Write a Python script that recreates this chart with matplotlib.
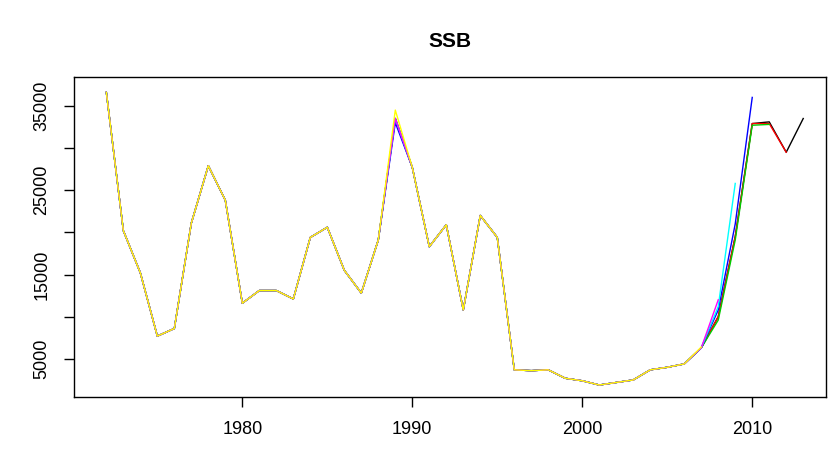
import numpy as np
import matplotlib
matplotlib.use("Agg")
from matplotlib import pyplot as plt

plt.rcParams['font.family'] = ['Liberation Sans', 'DejaVu Sans']

years = list(range(1972, 2014))
# latest assessment (black), 1972-2013
ssb_full = [36600, 20200, 15200, 7700, 8600, 21100, 27900, 23800, 11600, 13100,
            13100, 12100, 19400, 20600, 15500, 12800, 19100, 33500, 27700, 18300,
            20900, 10800, 22000, 19400, 3700, 3600, 3700, 2700, 2400, 1900,
            2200, 2500, 3700, 4000, 4400, 6300, 10000, 19500, 32900, 33100,
            29500, 33500]

# retrospective runs: (colour, last year, tail values replacing the end of ssb_full)
retro_tail = [
    ("red", 2012, [10000, 19500, 32900, 32900, 29500]),
    ("#00CD00", 2011, [9600, 19100, 32700, 32800]),
    ("blue", 2010, [10800, 21000, 36000]),
    ("cyan", 2009, [11200, 25800]),
    ("magenta", 2008, [12000]),
    ("yellow", 2007, [6400]),
]
yellow_1989 = 34500
blue_1989 = 33000

fig = plt.figure(figsize=(8.32, 4.54), dpi=100)
ax = fig.add_axes([0.089, 0.1256, 0.904, 0.7044])

ax.plot(years, ssb_full, color="black", lw=1)
for col, last, tail in retro_tail:
    n = last - 1972 + 1
    vals = ssb_full[:n - len(tail)] + tail
    if col == "yellow":
        vals[1989 - 1972] = yellow_1989
    if col == "blue":
        vals[1989 - 1972] = blue_1989
    ax.plot(years[:n], vals, color=col, lw=1)

ax.set_xlim(1970.1, 2014.35)
ax.set_ylim(480, 38400)
ax.set_xticks([1980, 1990, 2000, 2010])
ax.set_yticks([5000, 10000, 15000, 20000, 25000, 30000, 35000])
ax.set_yticklabels(["5000", "", "15000", "", "25000", "", "35000"],
                   rotation=90, va="center")
ax.tick_params(direction="out", length=7, labelsize=13, width=1)
ax.tick_params(axis="x", pad=10)
ax.tick_params(axis="y", pad=10)
for s in ax.spines.values():
    s.set_linewidth(1)
ax.set_title("SSB", fontweight="bold", fontsize=15, pad=22)

fig.savefig("out.png", dpi=100)
